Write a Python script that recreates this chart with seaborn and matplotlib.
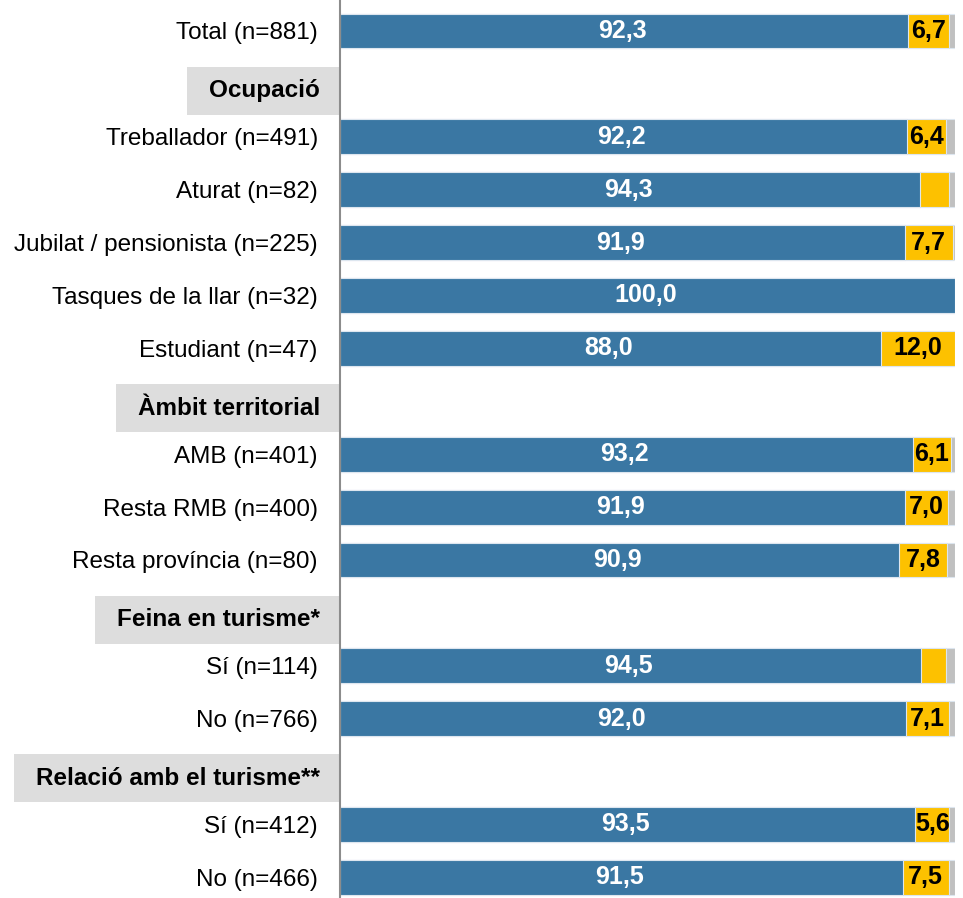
import matplotlib
matplotlib.use("Agg")
import matplotlib.pyplot as plt
from matplotlib.patches import Rectangle
import pandas as pd
import seaborn as sns

# grups i files (capçalera, files)
capcalera = [None, "Ocupació", "Àmbit territorial", "Feina en turisme*", "Relació amb el turisme**"]
files = [
    ["Total (n=881)"],
    ["Treballador (n=491)", "Aturat (n=82)", "Jubilat / pensionista (n=225)",
     "Tasques de la llar (n=32)", "Estudiant (n=47)"],
    ["AMB (n=401)", "Resta RMB (n=400)", "Resta província (n=80)"],
    ["Sí (n=114)", "No (n=766)"],
    ["Sí (n=412)", "No (n=466)"],
]

blau = [92.3, 92.2, 94.3, 91.9, 100.0, 88.0, 93.2, 91.9, 90.9, 94.5, 92.0, 93.5, 91.5]
groc = [6.7, 6.4, 4.7, 7.7, 0.0, 12.0, 6.1, 7.0, 7.8, 4.0, 7.1, 5.6, 7.5]
gris = [1.0, 1.4, 1.0, 0.4, 0.0, 0.0, 0.7, 1.1, 1.3, 1.5, 0.9, 0.9, 1.0]

C_BLAU = "#3a77a3"
C_GROC = "#fdc100"
C_GRIS = "#c0c0c0"
FS = 17.5
FS_VAL = 18

# posicions de fila
etiquetes, pos, cap_pos = [], [], []
i = 0
for cap, grup in zip(capcalera, files):
    if cap is not None:
        cap_pos.append((cap, i))
        i += 1
    for f in grup:
        etiquetes.append(f)
        pos.append(i)
        i += 1

df = pd.DataFrame({"pos": pos, "etiqueta": etiquetes, "blau": blau, "groc": groc, "gris": gris})
df["bg"] = df["blau"] + df["groc"]
df["tot"] = df["bg"] + df["gris"]

fig = plt.figure(figsize=(9.63, 8.98), dpi=100)
ax = fig.add_axes([340 / 963, 0, 615 / 963, 1])

kw = dict(orient="h", native_scale=True, width=0.66, errorbar=None, ax=ax,
          edgecolor="#dde6ef", linewidth=0.8)
sns.barplot(data=df, x="tot", y="pos", color=C_GRIS, saturation=1, **kw)
sns.barplot(data=df, x="bg", y="pos", color=C_GROC, saturation=1, **kw)
sns.barplot(data=df, x="blau", y="pos", color=C_BLAU, saturation=1, **kw)

ax.set_xlim(0, 100)
ax.set_ylim(16.39, -0.586)
ax.set_xlabel("")
ax.set_ylabel("")
ax.set_xticks([])
ax.set_yticks(df["pos"])
ax.set_yticklabels(df["etiqueta"], fontsize=FS, family="Liberation Sans")
ax.tick_params(axis="y", length=0, pad=16)
for s in ["top", "right", "bottom"]:
    ax.spines[s].set_visible(False)
ax.spines["left"].set_color("#8c8c8c")
ax.spines["left"].set_linewidth(1.5)
ax.spines["left"].set_zorder(5)

for _, r in df.iterrows():
    ax.text(r["blau"] / 2 - 0.3, r["pos"], f"{r['blau']:.1f}".replace(".", ","),
            ha="center", va="center", color="white", fontsize=FS_VAL,
            fontweight="bold", family="Liberation Sans")
    if r["groc"] >= 5:
        ax.text(r["blau"] + r["groc"] / 2, r["pos"], f"{r['groc']:.1f}".replace(".", ","),
                ha="center", va="center", color="black", fontsize=FS_VAL,
                fontweight="bold", family="Liberation Sans")

# capçaleres amb caixa grisa
fig.canvas.draw()
rend = fig.canvas.get_renderer()
x_axis_px = ax.transAxes.transform((0, 0))[0]
for cap, p in cap_pos:
    yc = p + 0.13
    t = ax.text(-20 / 615, yc, cap, transform=ax.get_yaxis_transform(),
                ha="right", va="center", fontsize=FS, fontweight="bold",
                family="Liberation Sans", clip_on=False, zorder=6)
    bb = t.get_window_extent(rend)
    y_px = ax.transData.transform((0, yc))[1]
    x0, y0 = ax.transData.inverted().transform((bb.x0 - 22, y_px - 24))
    x1, y1 = ax.transData.inverted().transform((x_axis_px, y_px + 24))
    ax.add_patch(Rectangle((x0, y0), x1 - x0, y1 - y0, facecolor="#dddddd",
                           edgecolor="none", clip_on=False, zorder=4))

fig.savefig("out.png", dpi=100)
